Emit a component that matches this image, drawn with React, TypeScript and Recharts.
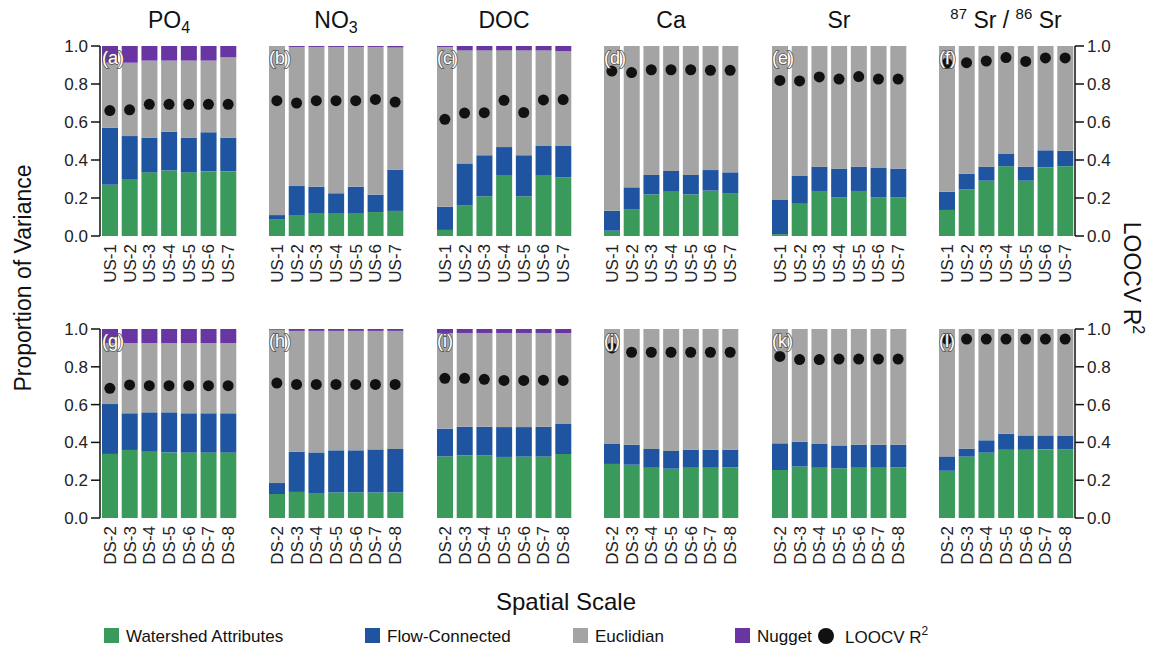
import { ComposedChart, Bar, Line, XAxis, YAxis } from 'recharts';

const FONT = '"Liberation Sans", Arial, Helvetica, sans-serif';

const C_WS = '#3a9a5b';
const C_FC = '#1f55a0';
const C_EU = '#a4a4a4';
const C_NG = '#6835a2';

/** Spatial scales on the x axis of each row. */
const upstreamScales = ['US-1', 'US-2', 'US-3', 'US-4', 'US-5', 'US-6', 'US-7'];
const downstreamScales = ['DS-2', 'DS-3', 'DS-4', 'DS-5', 'DS-6', 'DS-7', 'DS-8'];

const lettersUS = ['(a)', '(b)', '(c)', '(d)', '(e)', '(f)'];
const lettersDS = ['(g)', '(h)', '(i)', '(j)', '(k)', '(l)'];

// one inner array per analyte: PO4, NO3, DOC, Ca, Sr, 87Sr/86Sr
const watershedUS = [
  [0.27, 0.3, 0.335, 0.345, 0.335, 0.34, 0.34],
  [0.089, 0.107, 0.121, 0.121, 0.121, 0.126, 0.132],
  [0.032, 0.16, 0.209, 0.321, 0.209, 0.321, 0.309],
  [0.028, 0.139, 0.219, 0.233, 0.219, 0.239, 0.223],
  [0.01, 0.17, 0.237, 0.204, 0.237, 0.204, 0.204],
  [0.137, 0.246, 0.291, 0.367, 0.291, 0.361, 0.367],
];
const flowUS = [
  [0.3, 0.226, 0.183, 0.204, 0.183, 0.206, 0.178],
  [0.021, 0.156, 0.139, 0.104, 0.139, 0.092, 0.217],
  [0.122, 0.222, 0.216, 0.147, 0.216, 0.153, 0.165],
  [0.105, 0.117, 0.102, 0.109, 0.102, 0.108, 0.112],
  [0.18, 0.148, 0.128, 0.151, 0.128, 0.154, 0.151],
  [0.096, 0.082, 0.074, 0.065, 0.074, 0.09, 0.082],
];
const euclidUS = [
  [0.342, 0.386, 0.405, 0.374, 0.405, 0.377, 0.422],
  [0.89, 0.732, 0.735, 0.77, 0.735, 0.777, 0.643],
  [0.841, 0.595, 0.552, 0.509, 0.552, 0.503, 0.498],
  [0.867, 0.744, 0.679, 0.658, 0.679, 0.653, 0.665],
  [0.81, 0.682, 0.635, 0.645, 0.635, 0.642, 0.645],
  [0.767, 0.672, 0.635, 0.568, 0.635, 0.549, 0.551],
];
const nuggetUS = [
  [0.088, 0.088, 0.077, 0.077, 0.077, 0.077, 0.06],
  [0, 0.005, 0.005, 0.005, 0.005, 0.005, 0.008],
  [0.005, 0.023, 0.023, 0.023, 0.023, 0.023, 0.028],
  [0, 0, 0, 0, 0, 0, 0],
  [0, 0, 0, 0, 0, 0, 0],
  [0, 0, 0, 0, 0, 0, 0],
];
const r2US = [
  [0.66, 0.664, 0.693, 0.693, 0.693, 0.693, 0.693],
  [0.712, 0.7, 0.712, 0.712, 0.712, 0.719, 0.705],
  [0.614, 0.647, 0.649, 0.714, 0.65, 0.716, 0.718],
  [0.868, 0.86, 0.875, 0.875, 0.875, 0.872, 0.872],
  [0.819, 0.816, 0.837, 0.826, 0.839, 0.826, 0.826],
  [0.909, 0.912, 0.921, 0.939, 0.919, 0.937, 0.937],
];

const watershedDS = [
  [0.339, 0.36, 0.354, 0.347, 0.346, 0.346, 0.346],
  [0.127, 0.138, 0.132, 0.135, 0.135, 0.135, 0.135],
  [0.326, 0.331, 0.33, 0.323, 0.325, 0.325, 0.339],
  [0.286, 0.282, 0.266, 0.261, 0.266, 0.266, 0.268],
  [0.254, 0.272, 0.266, 0.263, 0.266, 0.266, 0.268],
  [0.25, 0.325, 0.346, 0.361, 0.361, 0.363, 0.363],
];
const flowDS = [
  [0.264, 0.194, 0.205, 0.212, 0.208, 0.208, 0.208],
  [0.058, 0.213, 0.215, 0.223, 0.223, 0.228, 0.23],
  [0.147, 0.152, 0.153, 0.158, 0.156, 0.158, 0.158],
  [0.106, 0.106, 0.099, 0.094, 0.096, 0.096, 0.094],
  [0.141, 0.132, 0.126, 0.121, 0.122, 0.122, 0.12],
  [0.076, 0.042, 0.065, 0.085, 0.076, 0.074, 0.074],
];
const euclidDS = [
  [0.323, 0.372, 0.367, 0.367, 0.372, 0.372, 0.372],
  [0.811, 0.639, 0.643, 0.632, 0.632, 0.627, 0.625],
  [0.506, 0.496, 0.496, 0.498, 0.498, 0.496, 0.482],
  [0.608, 0.612, 0.635, 0.645, 0.638, 0.638, 0.638],
  [0.605, 0.596, 0.608, 0.616, 0.612, 0.612, 0.612],
  [0.674, 0.633, 0.589, 0.554, 0.563, 0.563, 0.563],
];
const nuggetDS = [
  [0.074, 0.074, 0.074, 0.074, 0.074, 0.074, 0.074],
  [0.004, 0.01, 0.01, 0.01, 0.01, 0.01, 0.01],
  [0.021, 0.021, 0.021, 0.021, 0.021, 0.021, 0.021],
  [0, 0, 0, 0, 0, 0, 0],
  [0, 0, 0, 0, 0, 0, 0],
  [0, 0, 0, 0, 0, 0, 0],
];
const r2DS = [
  [0.686, 0.704, 0.7, 0.7, 0.7, 0.7, 0.7],
  [0.714, 0.707, 0.707, 0.707, 0.707, 0.707, 0.707],
  [0.739, 0.739, 0.734, 0.728, 0.728, 0.729, 0.728],
  [0.9, 0.877, 0.877, 0.877, 0.877, 0.877, 0.877],
  [0.855, 0.838, 0.838, 0.841, 0.841, 0.841, 0.841],
  [0.947, 0.947, 0.947, 0.947, 0.947, 0.947, 0.947],
];

const yTicks = [0, 0.2, 0.4, 0.6, 0.8, 1.0];

// layout
const PLOT_LEFT = [100, 267, 435, 602, 770, 937];
const PLOT_W = 138;
const ROW_TOP = [46, 329];
const ROW_H = [190, 189];
const PAD_TOP = 10;
const X_AXIS_H = 75;

function ScaleTick({ x, y, payload }: any) {
  return (
    <text
      x={x}
      y={y}
      transform={`rotate(-90, ${x}, ${y})`}
      dy={6}
      textAnchor="end"
      fill="#222"
      fontSize={17}
      fontFamily={FONT}
    >
      {payload.value}
    </text>
  );
}

function Panel({ idx, row }: { idx: number; row: number }) {
  const scales = row === 0 ? upstreamScales : downstreamScales;
  const ws = row === 0 ? watershedUS : watershedDS;
  const fc = row === 0 ? flowUS : flowDS;
  const eu = row === 0 ? euclidUS : euclidDS;
  const ng = row === 0 ? nuggetUS : nuggetDS;
  const r2 = row === 0 ? r2US : r2DS;

  const data = scales.map((s, i) => ({
    scale: s,
    ws: ws[idx][i],
    fc: fc[idx][i],
    eu: eu[idx][i],
    ng: ng[idx][i],
    r2: r2[idx][i],
  }));

  const showLeft = idx === 0;
  const showRight = idx === 5;
  const leftW = showLeft ? 50 : 0;
  const rightW = showRight ? 55 : 0;
  const plotH = ROW_H[row];

  return (
    <div style={{ position: 'absolute', left: PLOT_LEFT[idx] - leftW, top: ROW_TOP[row] - PAD_TOP }}>
      <ComposedChart
        width={leftW + PLOT_W + rightW}
        height={PAD_TOP + plotH + X_AXIS_H}
        data={data}
        margin={{ top: PAD_TOP, right: 0, bottom: 0, left: 0 }}
        barSize={16}
      >
        <XAxis
          dataKey="scale"
          height={X_AXIS_H}
          axisLine={false}
          tickLine={false}
          interval={0}
          tick={<ScaleTick />}
        />
        <YAxis
          domain={[0, 1]}
          allowDataOverflow
          ticks={yTicks}
          hide={!showLeft && !showRight}
          orientation={showRight ? 'right' : 'left'}
          width={showRight ? rightW : leftW}
          tickSize={9}
          tickMargin={3}
          tickFormatter={(v: number) => v.toFixed(1)}
          axisLine={{ stroke: '#111', strokeWidth: 1.5 }}
          tickLine={{ stroke: '#111', strokeWidth: 1.5 }}
          tick={{ fill: '#222', fontSize: 17, fontFamily: FONT }}
        />
        <Bar dataKey="ws" stackId="v" fill={C_WS} isAnimationActive={false} />
        <Bar dataKey="fc" stackId="v" fill={C_FC} isAnimationActive={false} />
        <Bar dataKey="eu" stackId="v" fill={C_EU} isAnimationActive={false} />
        <Bar dataKey="ng" stackId="v" fill={C_NG} isAnimationActive={false} />
        <Line
          dataKey="r2"
          stroke="none"
          dot={{ r: 5.5, fill: '#111', stroke: '#111', strokeWidth: 0 }}
          activeDot={false}
          isAnimationActive={false}
        />
      </ComposedChart>
    </div>
  );
}

function Titles() {
  const cx = PLOT_LEFT.map((l) => l + PLOT_W / 2);
  const t = { fontSize: 23, fontFamily: FONT, fill: '#111', textAnchor: 'middle' as const };
  return (
    <>
      <text x={cx[0]} y={28} {...t}>
        PO<tspan dy={5} fontSize={16}>4</tspan>
      </text>
      <text x={cx[1]} y={28} {...t}>
        NO<tspan dy={5} fontSize={16}>3</tspan>
      </text>
      <text x={cx[2]} y={28} {...t}>DOC</text>
      <text x={cx[3]} y={28} {...t}>Ca</text>
      <text x={cx[4]} y={28} {...t}>Sr</text>
      <text x={cx[5]} y={28} {...t}>
        <tspan fontSize={15} dy={-9}>87</tspan>
        <tspan dy={9}> Sr / </tspan>
        <tspan fontSize={15} dy={-9}>86</tspan>
        <tspan dy={9}> Sr</tspan>
      </text>
    </>
  );
}

function PanelLetters() {
  const st = {
    fontSize: 18,
    fontFamily: FONT,
    fill: '#fff',
    stroke: '#555',
    strokeWidth: 1.6,
    paintOrder: 'stroke' as const,
  };
  return (
    <>
      {lettersUS.map((l, i) => (
        <text key={l} x={PLOT_LEFT[i] + 2} y={ROW_TOP[0] + 18} {...st}>{l}</text>
      ))}
      {lettersDS.map((l, i) => (
        <text key={l} x={PLOT_LEFT[i] + 2} y={ROW_TOP[1] + 18} {...st}>{l}</text>
      ))}
    </>
  );
}

function FigureLegend() {
  const y = 636;
  const txt = { fontSize: 17, fontFamily: FONT, fill: '#111' };
  const items = [
    { x: 104, color: C_WS, label: 'Watershed Attributes' },
    { x: 365, color: C_FC, label: 'Flow-Connected' },
    { x: 573, color: C_EU, label: 'Euclidian' },
    { x: 735, color: C_NG, label: 'Nugget' },
  ];
  return (
    <>
      {items.map((it) => (
        <g key={it.label}>
          <rect x={it.x} y={y - 8} width={15} height={15} fill={it.color} />
          <text x={it.x + 22} y={y + 6} {...txt}>{it.label}</text>
        </g>
      ))}
      <circle cx={826} cy={y} r={8} fill="#111" />
      <text x={845} y={y + 7} {...txt}>
        LOOCV R<tspan fontSize={12} dy={-8}>2</tspan>
      </text>
    </>
  );
}

export default function App() {
  return (
    <div
      style={{
        position: 'absolute',
        left: 0,
        top: 0,
        width: 1151,
        height: 651,
        background: '#fff',
        fontFamily: FONT,
      }}
    >
      {[0, 1].map((row) =>
        [0, 1, 2, 3, 4, 5].map((idx) => <Panel key={`${row}-${idx}`} idx={idx} row={row} />)
      )}
      <svg
        width={1151}
        height={651}
        style={{ position: 'absolute', left: 0, top: 0, pointerEvents: 'none' }}
      >
        <Titles />
        <PanelLetters />
        <text
          x={0}
          y={0}
          transform="translate(31, 278) rotate(-90)"
          textAnchor="middle"
          fontSize={23}
          fontFamily={FONT}
          fill="#111"
        >
          Proportion of Variance
        </text>
        <text
          x={0}
          y={0}
          transform="translate(1124, 278) rotate(90)"
          textAnchor="middle"
          fontSize={23}
          fontFamily={FONT}
          fill="#111"
        >
          LOOCV R<tspan fontSize={16} dy={-9}>2</tspan>
        </text>
        <text x={566} y={610} textAnchor="middle" fontSize={24} fontFamily={FONT} fill="#111">
          Spatial Scale
        </text>
        <FigureLegend />
      </svg>
    </div>
  );
}
